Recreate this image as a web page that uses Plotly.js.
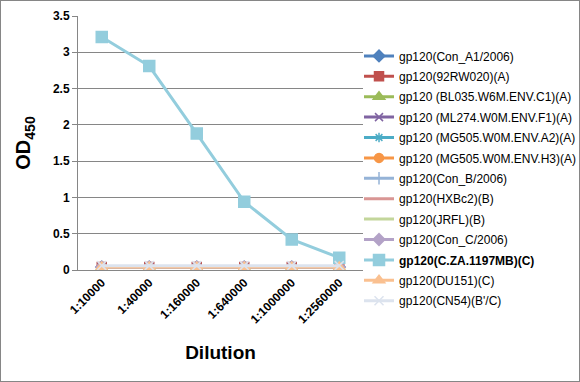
<!DOCTYPE html>
<html><head><meta charset="utf-8">
<script src="https://cdn.plot.ly/plotly-3.0.1.min.js"></script>
<style>
html,body{margin:0;padding:0;background:#fff;}
#wrap{width:578px;height:380px;border:1px solid #868686;}
#chart{width:578px;height:380px;}
</style></head>
<body><div id="wrap"><div id="chart"></div></div>
<script>
const dilutions = ["1:10000","1:40000","1:160000","1:640000","1:1000000","1:2560000"];
const seriesNames = [
  "gp120(Con_A1/2006)",
  "gp120(92RW020)(A)",
  "gp120 (BL035.W6M.ENV.C1)(A)",
  "gp120 (ML274.W0M.ENV.F1)(A)",
  "gp120 (MG505.W0M.ENV.A2)(A)",
  "gp120 (MG505.W0M.ENV.H3)(A)",
  "gp120(Con_B/2006)",
  "gp120(HXBc2)(B)",
  "gp120(JRFL)(B)",
  "gp120(Con_C/2006)",
  "<b>gp120(C.ZA.1197MB)(C)</b>",
  "gp120(DU151)(C)",
  "gp120(CN54)(B'/C)"
];
const conA1   = [0.04,0.04,0.04,0.04,0.04,0.04];
const rw020   = [0.04,0.04,0.04,0.04,0.04,0.04];
const bl035   = [0.04,0.04,0.04,0.04,0.04,0.04];
const ml274   = [0.04,0.04,0.04,0.04,0.04,0.04];
const mg505a2 = [0.04,0.04,0.04,0.04,0.04,0.04];
const mg505h3 = [0.04,0.04,0.04,0.04,0.04,0.04];
const conB    = [0.04,0.04,0.04,0.04,0.04,0.04];
const hxbc2   = [0.04,0.04,0.04,0.04,0.04,0.04];
const jrfl    = [0.04,0.04,0.04,0.04,0.04,0.04];
const conC    = [0.04,0.04,0.04,0.04,0.04,0.04];
const cza1197 = [3.21,2.81,1.88,0.94,0.42,0.17];
const du151   = [0.04,0.04,0.04,0.04,0.04,0.04];
const cn54    = [0.06,0.06,0.06,0.06,0.06,0.06];
const allValues = [conA1,rw020,bl035,ml274,mg505a2,mg505h3,conB,hxbc2,jrfl,conC,cza1197,du151,cn54];

const colors = ["#4F81BD","#C0504D","#9BBB59","#8064A2","#4BACC6","#F79646",
                "#95B3D7","#D99694","#C3D69B","#B3A2C7","#93CDDD","#FAC090","#DCE3EE"];
const symbols = ["diamond","square","triangle-up","x-thin-open","asterisk-open","circle",
                 "cross-thin-open","line-ew-open","line-ew-open","diamond","square","triangle-up","x-thin-open"];
const sizes = [9,9,10,8,8,9,9,8,8,9,11,10,9];

const traces = seriesNames.map((n,i)=>({
  x: dilutions, y: allValues[i], name: n, type:'scatter', mode:'lines+markers',
  legendgroup:'g'+i,
  line:{color:colors[i], width:3},
  marker:{symbol:symbols[i], size:sizes[i], color:colors[i], line:{color:colors[i], width:1.5}}
}));

const layout = {
  width:578, height:380,
  margin:{l:77,r:216,t:15,b:111,pad:0,autoexpand:false},
  paper_bgcolor:'#fff', plot_bgcolor:'#fff',
  font:{family:'Liberation Sans, Arial, sans-serif', color:'#000'},
  showlegend:true,
  legend:{x:0.986, xanchor:'left', y:0.9, yanchor:'top', font:{size:12}, traceorder:'grouped',
    tracegroupgap:1.4, maxheight:340, bgcolor:'rgba(0,0,0,0)'},
  xaxis:{type:'category', range:[-0.5,5.5], tickangle:-45, tickfont:{size:12, weight:'bold'},
    showline:true, linecolor:'#868686', linewidth:1, showgrid:false, ticks:'', zeroline:false,
    title:{text:'<b>Dilution</b>', font:{size:19}, standoff:20}},
  yaxis:{range:[0,3.5], dtick:0.5, tickfont:{size:12, weight:'bold'}, showline:true, linecolor:'#868686',
    gridcolor:'#868686', gridwidth:1, ticks:'outside', ticklen:5, tickcolor:'#868686', zeroline:false,
    title:{text:'<b>OD<sub>450</sub></b>', font:{size:20}, standoff:16}}
};
Plotly.newPlot('chart', traces, layout, {displayModeBar:false, staticPlot:true});
</script></body></html>
